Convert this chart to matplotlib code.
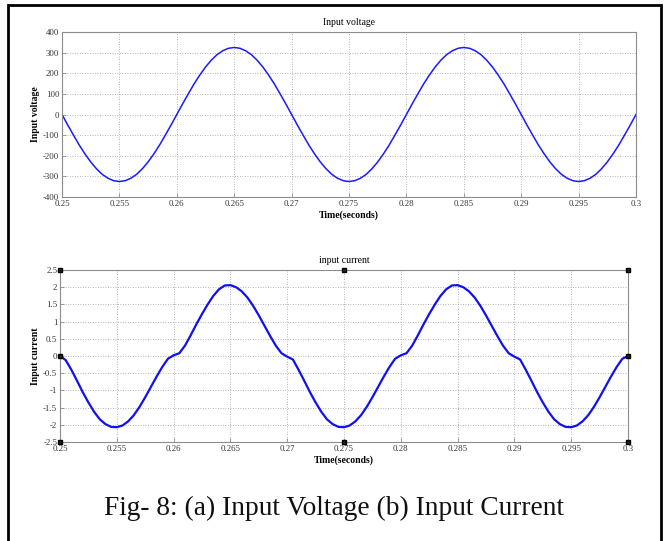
import numpy as np
import matplotlib
matplotlib.use("Agg")
import matplotlib.pyplot as plt
from matplotlib.patches import Rectangle

# ---- data ----
time_s = [round(0.25 + 0.0005 * k, 4) for k in range(101)]

voltage = [
    0, -51, -100, -148, -191, -230, -263, -290, -309, -321, -325,
    -321, -309, -290, -263, -230, -191, -148, -100, -51, 0,
    51, 100, 148, 191, 230, 263, 290, 309, 321, 325,
    321, 309, 290, 263, 230, 191, 148, 100, 51, 0,
    -51, -100, -148, -191, -230, -263, -290, -309, -321, -325,
    -321, -309, -290, -263, -230, -191, -148, -100, -51, 0,
    51, 100, 148, 191, 230, 263, 290, 309, 321, 325,
    321, 309, 290, 263, 230, 191, 148, 100, 51, 0,
    -51, -100, -148, -191, -230, -263, -290, -309, -321, -325,
    -321, -309, -290, -263, -230, -191, -148, -100, -51, 0,
]

current = [
    0.00, -0.12, -0.40, -0.72, -1.05, -1.35, -1.62, -1.84, -1.98, -2.06, -2.07,
    -2.02, -1.90, -1.72, -1.48, -1.20, -0.90, -0.60, -0.32, -0.08, 0.02,
    0.08, 0.30, 0.60, 0.92, 1.22, 1.50, 1.75, 1.94, 2.05, 2.06,
    2.00, 1.88, 1.70, 1.46, 1.18, 0.88, 0.58, 0.30, 0.08, -0.02,
    -0.10, -0.40, -0.72, -1.05, -1.35, -1.62, -1.84, -1.98, -2.06, -2.07,
    -2.02, -1.90, -1.72, -1.48, -1.20, -0.90, -0.60, -0.32, -0.08, 0.02,
    0.08, 0.30, 0.60, 0.92, 1.22, 1.50, 1.75, 1.94, 2.05, 2.06,
    2.00, 1.88, 1.70, 1.46, 1.18, 0.88, 0.58, 0.30, 0.08, -0.02,
    -0.10, -0.40, -0.72, -1.05, -1.35, -1.62, -1.84, -1.98, -2.06, -2.07,
    -2.02, -1.90, -1.72, -1.48, -1.20, -0.90, -0.60, -0.32, -0.08, 0.00,
]

x_ticks = [0.25, 0.255, 0.26, 0.265, 0.27, 0.275, 0.28, 0.285, 0.29, 0.295, 0.3]
x_ticklabels = ["0.25", "0.255", "0.26", "0.265", "0.27", "0.275", "0.28",
                "0.285", "0.29", "0.295", "0.3"]
v_ticks = [-400, -300, -200, -100, 0, 100, 200, 300, 400]
v_ticklabels = ["-400", "-300", "-200", "-100", "0", "100", "200", "300", "400"]
i_ticks = [-2.5, -2, -1.5, -1, -0.5, 0, 0.5, 1, 1.5, 2, 2.5]
i_ticklabels = ["-2.5", "-2", "-1.5", "-1", "-0.5", "0", "0.5", "1", "1.5", "2", "2.5"]

handle_x = [0.25, 0.275, 0.3, 0.25, 0.3, 0.25, 0.275, 0.3]
handle_y = [2.5, 2.5, 2.5, 0, 0, -2.5, -2.5, -2.5]

# ---- figure ----
plt.rcParams['font.family'] = ['Liberation Serif', 'DejaVu Serif']
plt.rcParams['axes.unicode_minus'] = False
W, H = 668, 541
fig = plt.figure(figsize=(W / 100, H / 100), dpi=100)

def fx(px):
    return px / W

def fy(py):
    return 1 - py / H

# outer frame
fig.patches.append(Rectangle((fx(7.5), fy(560)), fx(661) - fx(7.5), fy(5) - fy(560),
                             transform=fig.transFigure, fill=False,
                             edgecolor='black', linewidth=2.0))

def style_axes(ax):
    for sp in ax.spines.values():
        sp.set_color('#8c8c8c')
        sp.set_linewidth(0.8)
    ax.grid(True, linestyle=(0, (1, 2)), color='#9a9a9a', linewidth=0.6)
    ax.tick_params(direction='in', length=3, width=0.6, color='#8c8c8c',
                   labelsize=6.3, pad=2, top=False, right=False,
                   labelcolor='#333333')
    ax.set_xticks(x_ticks)
    ax.set_xticklabels(x_ticklabels)
    ax.set_xlim(0.25, 0.3)

# top axes: voltage
ax1 = fig.add_axes([fx(62), fy(197), fx(636) - fx(62), fy(32) - fy(197)])
ax1.plot(time_s, voltage, color='#1a1aff', linewidth=1.1)
style_axes(ax1)
ax1.set_ylim(-400, 400)
ax1.set_yticks(v_ticks)
ax1.set_yticklabels(v_ticklabels)
ax1.set_title("Input voltage", fontsize=7, pad=5)
ax1.set_xlabel("Time(seconds)", fontsize=7, fontweight='bold', labelpad=2)
ax1.set_ylabel("Input voltage", fontsize=7, fontweight='bold', labelpad=2)

# bottom axes: current
ax2 = fig.add_axes([fx(60), fy(442), fx(628) - fx(60), fy(270) - fy(442)])
ax2.plot(time_s, current, color='#1010f0', linewidth=1.6)
style_axes(ax2)
ax2.set_ylim(-2.5, 2.5)
ax2.set_yticks(i_ticks)
ax2.set_yticklabels(i_ticklabels)
ax2.set_title("input current", fontsize=7, pad=5)
ax2.set_xlabel("Time(seconds)", fontsize=7, fontweight='bold', labelpad=2)
ax2.set_ylabel("Input current", fontsize=7, fontweight='bold', labelpad=2)
ax2.plot(handle_x, handle_y, linestyle='none', marker='s', markersize=3,
         markerfacecolor='#222222', markeredgecolor='black', clip_on=False, zorder=5)

# caption
fig.text(0.5, fy(508), "Fig- 8: (a) Input Voltage (b) Input Current",
         ha='center', va='center', fontsize=19.7, color='#111111')

fig.savefig("out.png", dpi=100)
